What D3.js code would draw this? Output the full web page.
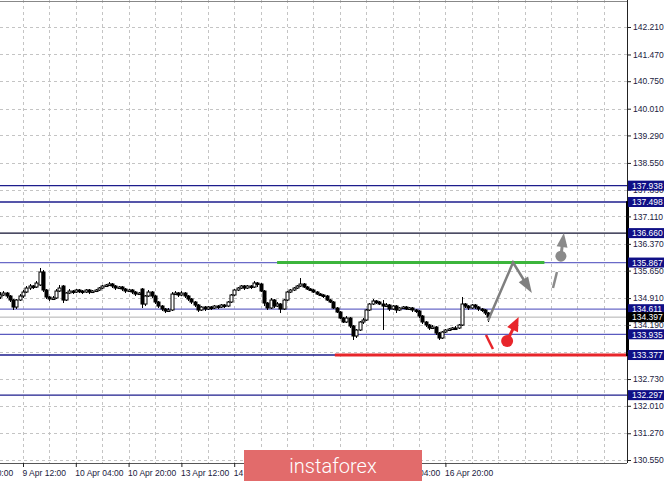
<!DOCTYPE html>
<html><head><meta charset="utf-8">
<script src="https://cdn.jsdelivr.net/npm/d3@7"></script>
<style>body{margin:0;background:#fff;overflow:hidden} svg{display:block;font-family:"Liberation Sans",Arial,sans-serif;}</style>
</head><body><svg id="c" width="665" height="481"></svg>
<script>
// ---- data (USD/JPY H1, 9 Apr 05:00 .. 17 Apr) ----
const openP=[134.939,134.993,135.046,134.966,134.858,134.669,134.858,134.966,135.073,135.181,135.235,135.208,135.262,135.612,135.127,134.939,134.885,134.912,135.100,135.235,134.858,135.046,135.100,135.073,135.127,135.100,135.073,135.127,135.073,135.100,135.127,135.181,135.235,135.262,135.289,135.235,135.181,135.208,135.154,135.100,135.127,135.073,135.019,135.154,134.750,134.966,135.073,134.966,134.804,134.696,134.616,134.562,134.589,135.019,135.046,134.993,135.046,134.966,134.885,134.804,134.723,134.589,134.669,134.616,134.669,134.643,134.696,134.669,134.723,134.696,134.804,134.993,135.127,135.181,135.235,135.181,135.235,135.208,135.316,135.289,135.100,134.777,134.643,134.858,134.696,134.750,134.616,134.858,135.073,135.127,135.181,135.235,135.289,135.208,135.154,135.127,135.073,135.019,134.993,134.966,134.858,134.804,134.643,134.535,134.373,134.266,134.373,134.158,133.889,134.050,134.266,134.319,134.589,134.750,134.831,134.804,134.750,134.696,134.723,134.616,134.696,134.589,134.643,134.669,134.616,134.643,134.589,134.562,134.427,134.266,134.185,134.104,134.131,133.969,133.835,133.996,134.050,134.077,134.104,134.104,134.185,134.750,134.696,134.643,134.723,134.669,134.616,134.589,134.508];
const highP=[135.073,135.100,135.073,134.993,134.885,134.885,135.019,135.127,135.235,135.289,135.262,135.370,135.720,135.666,135.154,134.966,134.966,135.154,135.262,135.262,135.073,135.154,135.127,135.154,135.154,135.127,135.154,135.154,135.127,135.154,135.208,135.262,135.289,135.343,135.316,135.262,135.235,135.235,135.181,135.154,135.154,135.100,135.073,135.181,134.993,135.127,135.100,134.993,134.831,134.723,134.643,134.643,135.073,135.100,135.073,135.100,135.073,134.993,134.912,134.831,134.750,134.696,134.696,134.696,134.696,134.723,134.723,134.750,134.750,134.831,135.019,135.154,135.208,135.262,135.262,135.262,135.262,135.370,135.343,135.316,135.127,134.804,134.912,134.885,134.804,134.777,134.885,135.100,135.154,135.208,135.262,135.450,135.316,135.235,135.181,135.154,135.100,135.046,135.019,134.993,134.885,134.831,134.669,134.562,134.400,134.427,134.400,134.185,134.077,134.292,134.373,134.616,134.777,134.885,134.858,134.831,134.858,134.777,134.750,134.723,134.723,134.669,134.696,134.696,134.669,134.669,134.616,134.589,134.454,134.292,134.212,134.185,134.158,133.996,134.023,134.077,134.104,134.131,134.158,134.212,134.939,134.777,134.723,134.750,134.750,134.696,134.643,134.616,134.535];
const lowP=[134.885,134.966,134.912,134.804,134.589,134.616,134.831,134.912,135.046,135.127,135.154,135.181,135.235,135.073,134.885,134.831,134.858,134.885,135.073,134.777,134.831,135.019,135.019,135.046,135.046,135.019,135.046,135.019,135.046,135.073,135.100,135.154,135.208,135.235,135.181,135.127,135.154,135.100,135.046,135.073,135.019,134.966,134.993,134.643,134.696,134.939,134.912,134.750,134.643,134.562,134.508,134.535,134.562,134.993,134.939,134.966,134.912,134.831,134.750,134.669,134.535,134.562,134.562,134.589,134.589,134.616,134.616,134.643,134.643,134.669,134.777,134.966,135.100,135.154,135.127,135.154,135.154,135.181,135.208,135.073,134.696,134.589,134.616,134.643,134.669,134.508,134.589,134.831,135.046,135.100,135.154,135.208,135.181,135.127,135.100,135.046,134.993,134.966,134.912,134.831,134.777,134.616,134.508,134.346,134.239,134.239,134.104,133.781,133.835,134.023,134.212,134.292,134.562,134.723,134.750,134.723,134.050,134.669,134.562,134.589,134.508,134.562,134.616,134.589,134.589,134.535,134.508,134.373,134.212,134.131,134.050,134.077,133.916,133.781,133.808,133.969,134.023,134.050,134.077,134.077,134.158,134.643,134.589,134.616,134.616,134.562,134.535,134.454,134.266];
const closeP=[134.993,135.046,134.966,134.858,134.669,134.858,134.966,135.073,135.181,135.235,135.208,135.316,135.612,135.127,134.939,134.885,134.912,135.100,135.181,134.858,135.046,135.100,135.073,135.127,135.100,135.073,135.127,135.073,135.100,135.127,135.181,135.235,135.262,135.289,135.235,135.181,135.208,135.154,135.100,135.127,135.073,135.019,135.046,134.750,134.966,135.073,134.966,134.804,134.696,134.616,134.562,134.589,135.019,135.046,134.993,135.046,134.966,134.885,134.804,134.723,134.589,134.669,134.616,134.669,134.643,134.696,134.669,134.723,134.696,134.804,134.993,135.127,135.181,135.235,135.181,135.235,135.208,135.316,135.289,135.100,134.777,134.643,134.858,134.696,134.750,134.616,134.858,135.073,135.127,135.181,135.235,135.289,135.208,135.154,135.127,135.073,135.019,134.993,134.966,134.858,134.804,134.643,134.535,134.373,134.266,134.373,134.158,133.889,134.050,134.266,134.319,134.589,134.750,134.831,134.804,134.750,134.696,134.723,134.616,134.696,134.589,134.643,134.669,134.616,134.643,134.589,134.562,134.427,134.266,134.185,134.104,134.131,133.969,133.835,133.996,134.050,134.077,134.104,134.104,134.185,134.750,134.696,134.643,134.723,134.669,134.616,134.589,134.508,134.397];

const priceTicks=[142.210,141.470,140.750,140.010,139.290,138.550,137.830,137.110,136.370,135.650,134.910,134.190,133.450,132.730,132.010,131.270,130.550];
const timeLabels=["8 Apr 20:00","9 Apr 12:00","10 Apr 04:00","10 Apr 20:00","13 Apr 12:00","14 Apr 04:00","14 Apr 20:00","15 Apr 12:00","16 Apr 04:00","16 Apr 20:00"];
const timeLabelBars=[-9,7,23,39,55,71,87,103,119,135];
const levels=[137.938,137.498,136.660,135.867,134.611,133.935,133.377,132.297];
const bidPrice=134.397;
const resistance=135.867, support=133.377;
// forecast arrows (bar index, price)
const upPath=[[147.9,134.30],[155.5,135.867],[161.2,135.05]];
const redDash=[[147.3,133.916],[149.4,133.539]];
const redBall=[153.7,133.754], redTip=[157.2,134.40];
const grayDash=[[167.6,135.181],[168.8,135.612]];
const grayBall=[170.0,136.04], grayTip=[170.9,136.66];

// ---- drawing ----
const svg=d3.select("#c");
const W=627, H=463;
const x=d3.scaleLinear().domain([0,190]).range([-0.1,626.9]);
const y=d3.scaleLinear().domain([130.55,142.21]).range([460,27]);

svg.append("defs").append("clipPath").attr("id","pc").append("rect").attr("x",0).attr("y",0).attr("width",W).attr("height",H);
const plot=svg.append("g").attr("clip-path","url(#pc)");

// grid
const gridBars=d3.range(-1,191,8);
plot.selectAll(".vg").data(gridBars).enter().append("line")
  .attr("x1",d=>Math.round(x(d))+0.5).attr("x2",d=>Math.round(x(d))+0.5).attr("y1",0).attr("y2",H)
  .attr("stroke","#c4c4c4").attr("stroke-dasharray","3,3");
plot.selectAll(".hg").data(priceTicks).enter().append("line")
  .attr("x1",0).attr("x2",W).attr("y1",d=>Math.round(y(d))+0.5).attr("y2",d=>Math.round(y(d))+0.5)
  .attr("stroke","#c4c4c4").attr("stroke-dasharray","3,3");

// level lines
const levelColor={137.938:"#1c1c8c",137.498:"#1c1c8c",136.66:"#101030",135.867:"#6a6ac8",134.611:"#6a6ac8",133.935:"#5a5abf",133.377:"#1c1c8c",132.297:"#1c1c8c"};
plot.selectAll(".lv").data(levels).enter().append("line")
  .attr("x1",0).attr("x2",W).attr("y1",d=>y(d)).attr("y2",d=>y(d))
  .attr("stroke",d=>levelColor[d]).attr("stroke-width",1.3);
plot.append("line").attr("x1",0).attr("x2",W).attr("y1",y(bidPrice)).attr("y2",y(bidPrice)).attr("stroke","#b0b0b0").attr("stroke-width",1);

// candles
const bars=d3.range(closeP.length);
const cg=plot.append("g");
cg.selectAll(".wk").data(bars).enter().append("line")
  .attr("x1",i=>Math.round(x(i))+0.5).attr("x2",i=>Math.round(x(i))+0.5)
  .attr("y1",i=>y(highP[i])).attr("y2",i=>y(lowP[i])).attr("stroke","#000").attr("stroke-width",1);
cg.selectAll(".bd").data(bars).enter().append("rect")
  .attr("x",i=>Math.round(x(i))-1).attr("width",3)
  .attr("y",i=>y(Math.max(openP[i],closeP[i])))
  .attr("height",i=>Math.max(1.5,Math.abs(y(openP[i])-y(closeP[i]))))
  .attr("fill",i=>closeP[i]>openP[i]?"#fff":"#000").attr("stroke","#000").attr("stroke-width",1);

// green resistance & red support
plot.append("line").attr("x1",x(84)).attr("x2",x(165)).attr("y1",y(resistance)).attr("y2",y(resistance))
  .attr("stroke","#3cb53c").attr("stroke-width",3);
plot.append("line").attr("x1",x(101.5)).attr("x2",W).attr("y1",y(support)).attr("y2",y(support))
  .attr("stroke","#e8262b").attr("stroke-width",3);

// arrows
function px(p){return [x(p[0]),y(p[1])];}
function head(from,tip,len,hw,col){
  const a=px(from),b=px(tip);const dx=b[0]-a[0],dy=b[1]-a[1];const L=Math.hypot(dx,dy);
  const ux=dx/L,uy=dy/L;const bx=b[0]-ux*len,by=b[1]-uy*len;
  plot.append("path").attr("d",`M${b[0]},${b[1]}L${bx-uy*hw},${by+ux*hw}L${bx+uy*hw},${by-ux*hw}Z`).attr("fill",col);
  return [bx+ux*2,by+uy*2];
}
const line=d3.line().x(d=>x(d[0])).y(d=>y(d[1]));
// gray up-down path
{
  const h=head(upPath[1],upPath[2],16,5.5,"#7f7f7f");
  const pts=[px(upPath[0]),px(upPath[1]),h];
  plot.append("path").attr("d","M"+pts.map(p=>p.join(",")).join("L")).attr("fill","none").attr("stroke","#7f7f7f").attr("stroke-width",2.5);
}
// red
plot.append("path").attr("d",line(redDash)).attr("stroke","#e8262b").attr("stroke-width",2.5);
{
  const h=head(redBall,redTip,14,6,"#e8262b");
  const a=px(redBall);
  plot.append("line").attr("x1",a[0]).attr("y1",a[1]).attr("x2",h[0]).attr("y2",h[1]).attr("stroke","#e8262b").attr("stroke-width",3);
  plot.append("circle").attr("cx",a[0]).attr("cy",a[1]).attr("r",6).attr("fill","#e8262b");
}
// gray dashed up
plot.append("path").attr("d",line(grayDash)).attr("stroke","#8a8a8a").attr("stroke-width",2.5);
{
  const h=head(grayBall,grayTip,14,5.5,"#8a8a8a");
  const a=px(grayBall);
  plot.append("line").attr("x1",a[0]).attr("y1",a[1]).attr("x2",h[0]).attr("y2",h[1]).attr("stroke","#8a8a8a").attr("stroke-width",3);
  plot.append("circle").attr("cx",a[0]).attr("cy",a[1]).attr("r",5.5).attr("fill","#8a8a8a");
}

// frame
svg.append("line").attr("x1",0).attr("x2",W).attr("y1",1.5).attr("y2",1.5).attr("stroke","#888");
svg.append("line").attr("x1",W+0.5).attr("x2",W+0.5).attr("y1",0).attr("y2",H).attr("stroke","#222");
svg.append("line").attr("x1",W+0.5).attr("x2",W+0.5).attr("y1",y(137.52)).attr("y2",y(133.35)).attr("stroke","#000").attr("stroke-width",3);

// right axis
const ya=svg.append("g").attr("transform",`translate(${W},0)`)
  .call(d3.axisRight(y).tickValues(priceTicks).tickSize(4).tickPadding(2).tickFormat(d3.format(".3f")));
ya.select(".domain").remove();
ya.selectAll("text").attr("font-size","8.5px").attr("fill","#1a1a40").attr("font-family","Liberation Sans, Arial");
ya.selectAll("line").attr("stroke","#222");

// bottom axis
const xa=svg.append("g").attr("transform",`translate(0,${H})`)
  .call(d3.axisBottom(x).tickValues(timeLabelBars).tickSize(4).tickPadding(3).tickFormat((d,i)=>timeLabels[i]));
xa.select(".domain").attr("stroke","#555").attr("d",`M0,0.5H${W}`);
xa.selectAll("text").attr("text-anchor","start").attr("dx","-1").attr("font-size","8.5px").attr("fill","#1a1a40").attr("font-family","Liberation Sans, Arial");
xa.selectAll("line").attr("stroke","#222");

// level price labels
const lab=svg.append("g");
const allLabels=levels.map(v=>({v,bg:"#0f0f86"})).concat([{v:bidPrice,bg:"#000"}]);
lab.selectAll("rect").data(allLabels).enter().append("rect")
  .attr("x",W+1).attr("y",d=>y(d.v)-5).attr("width",36).attr("height",10).attr("fill",d=>d.bg);
lab.selectAll("text").data(allLabels).enter().append("text")
  .attr("x",W+5).attr("y",d=>y(d.v)+3.3).attr("fill","#fff").attr("font-size","8.5px").text(d=>d3.format(".3f")(d.v));

// watermark
svg.append("rect").attr("x",244).attr("y",450).attr("width",178).attr("height",32).attr("fill","#e26b6b");
svg.append("text").attr("x",333).attr("y",473).attr("text-anchor","middle").attr("fill","#fff")
  .attr("font-family","Roboto, sans-serif").attr("font-weight",300).attr("font-size","20px").text("instaforex");
</script></body></html>
